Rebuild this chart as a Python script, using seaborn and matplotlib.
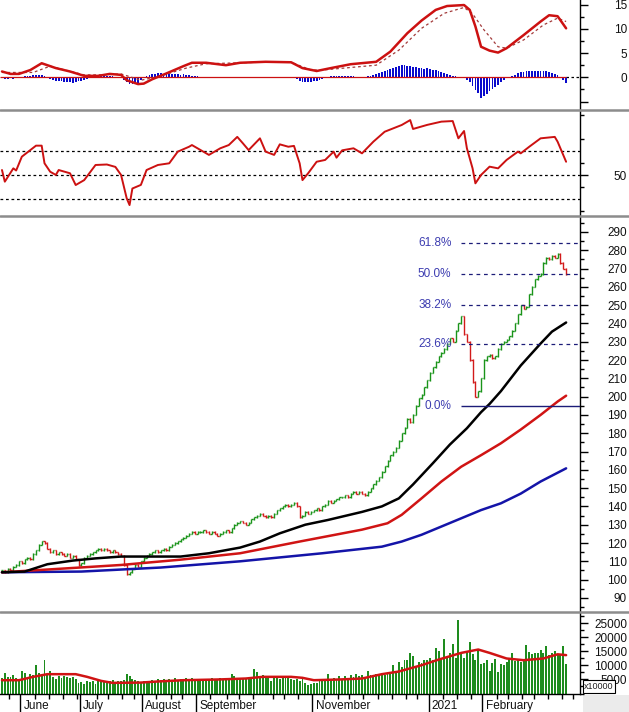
import numpy as np
import pandas as pd
import matplotlib
matplotlib.use("Agg")
import matplotlib.pyplot as plt
import matplotlib.transforms as mtransforms
from matplotlib.lines import Line2D
from matplotlib.patches import Rectangle
from matplotlib.ticker import FixedLocator, MultipleLocator
import seaborn as sns

# ---------------- data ----------------
closes = [
    105, 104, 106, 105, 107, 108, 110, 109, 111, 112,
    111, 114, 116, 119, 121, 120, 117, 115, 116, 114,
    115, 114, 113, 114, 112, 113, 111, 108, 109, 112,
    113, 114, 115, 116, 117, 116, 117, 116, 115, 116,
    115, 114, 113, 108, 103, 104, 106, 108, 107, 110,
    112, 113, 114, 115, 116, 115, 116, 117, 116, 118,
    119, 120, 121, 122, 123, 124, 125, 126, 125, 126,
    126, 127, 126, 125, 126, 125, 124, 125, 126, 127,
    126, 128, 130, 131, 132, 131, 130, 131, 133, 134,
    135, 136, 135, 134, 135, 134, 136, 138, 139, 140,
    141, 140, 141, 142, 140, 134, 135, 137, 136, 137,
    138, 139, 138, 140, 141, 143, 142, 143, 144, 145,
    145, 146, 145, 147, 148, 147, 148, 147, 146, 148,
    150, 152, 154, 156, 159, 162, 165, 168, 170, 172,
    176, 180, 183, 188, 186, 190, 195, 199, 201, 205,
    209, 213, 216, 219, 222, 224, 226, 229, 232, 230,
    236, 240, 244, 234, 230, 220, 208, 200, 203, 210,
    220, 222, 223, 221, 222, 226, 229, 230, 231, 233,
    236, 240, 245, 250, 248, 249, 256, 260, 264, 266,
    267, 273, 276, 275, 277, 276, 278, 273, 270, 267,
]

volumes = [
    5500, 7300, 6000, 5800, 6500, 5600, 5000, 7900, 7300, 6000,
    6900, 6500, 10100, 7400, 6400, 11900, 7000, 8200, 6000, 5300,
    6200, 5700, 6400, 5900, 5500, 6000, 5200, 3800, 4200, 3500,
    4300, 4000, 4600, 3400, 4700, 4400, 4100, 4500, 4300, 4800,
    4200, 4600, 4400, 4900, 7000, 6300, 5200, 4700, 4400, 4200,
    4600, 4500, 3900, 4700, 4400, 5000, 4800, 5300, 4500, 5100,
    4900, 5400, 4700, 5200, 4800, 5600, 4900, 5500, 5000, 4700,
    5200, 4900, 5300, 5100, 5500, 4800, 5200, 5400, 5000, 5600,
    5100, 7000, 6400, 5300, 5600, 5400, 5000, 5300, 5700, 8600,
    7800, 5800, 6700, 6000, 5800, 4600, 5600, 5900, 5300, 6100,
    5700, 5500, 5000, 4800, 5200, 4300, 5100, 3600, 3100, 3300,
    3600, 3900, 4700, 4300, 4500, 7000, 5200, 5600, 5000, 6100,
    5300, 6400, 5700, 6600, 5900, 6800, 6200, 6500, 5600, 8000,
    6600, 6300, 7000, 6800, 7200, 6500, 7100, 7600, 10200, 7800,
    11300, 9400, 11900, 11800, 14500, 13300, 9600, 11200, 10800, 12000,
    12100, 12500, 11900, 16100, 15200, 12300, 19600, 13000, 14500, 17800,
    12800, 26400, 14000, 12600, 15000, 18400, 14200, 12000, 15700, 10500,
    11000, 12000, 8000, 11000, 12200, 7600, 10600, 10200, 11300, 12600,
    14400, 11500, 11800, 11200, 11500, 17200, 14800, 14200, 14500, 14300,
    15700, 14600, 16800, 13900, 14500, 15000, 14100, 13800, 16800, 10700,
]

macd_hist = [
    -0.2, -0.3, -0.3, -0.2, -0.3, -0.2, -0.1, 0.1,
    0.2, 0.3, 0.3, 0.4, 0.4, 0.5, 0.4, 0.3,
    -0.2, -0.4, -0.6, -0.7, -0.8, -0.7, -0.9, -1.0, -0.9, -1.1, -1.0, -0.8, -0.7, -0.5, -0.3, -0.1,
    0.2, 0.3, 0.3, 0.4, 0.3, 0.3, 0.2, 0.2, 0.1, 0.1, -0.1, -0.5,
    -1.0, -1.3, -1.4, -1.3, -1.1, -0.6, -0.2,
    0.2, 0.4, 0.6, 0.7, 0.8, 0.8, 0.7, 0.8, 0.7, 0.6, 0.7, 0.6, 0.5, 0.6, 0.5, 0.4, 0.3, 0.3, 0.2, 0.1, 0.1,
    0.0, -0.1, 0.0, -0.1, -0.1, 0.0, 0.0, 0.1, 0.0, -0.1, 0.0, 0.1, 0.1, 0.0, -0.1, 0.0,
    -0.1, 0.0, 0.1, 0.1, 0.0, 0.0, -0.1, -0.1, 0.0, 0.0, 0.1, 0.0, 0.0, -0.1, 0.0,
    -0.2, -0.4, -0.7, -0.9, -1.0, -0.9, -0.9, -0.8, -0.7, -0.5, -0.4, -0.2,
    0.1, 0.2, 0.2, 0.3, 0.3, 0.2, 0.3, 0.3, 0.2, 0.2, 0.1, 0.1, 0.1, 0.0, 0.2, 0.3,
    0.4, 0.6, 0.8, 1.0, 1.3, 1.5, 1.8, 2.0, 2.2, 2.4, 2.5, 2.5, 2.4, 2.3, 2.2,
    2.1, 2.0, 1.9, 1.8, 1.9, 1.8, 1.6, 1.5, 1.3, 1.1, 0.9, 0.7, 0.5, 0.3, 0.2,
    0.1, 0.1, 0.0,
    -0.5, -1.0, -1.8, -2.6, -3.3, -4.3, -3.9, -3.5, -2.9, -2.5, -2.1, -1.6, -1.0, -0.5,
    -0.2, 0.0, 0.2, 0.5,
    0.8, 1.0, 1.1, 1.2, 1.2, 1.3, 1.2, 1.3, 1.4, 1.3, 1.2, 1.0, 0.8, 0.6, 0.4,
    0.1, -0.6, -1.2,
]

macd_idx = [0, 3, 6, 10, 14, 19, 24, 29, 34, 38, 42, 44, 48, 50, 53, 58, 64, 67, 72, 79,
            84, 93, 102, 106, 111, 116, 123, 132, 137, 143, 148, 153, 157, 163, 165, 167,
            169, 172, 175, 178, 184, 190, 193, 196, 199]
macd_val = [1.2, 0.7, 0.7, 1.5, 2.9, 1.9, 1.2, 0.3, 0.3, 0.7, 0.5, -0.6, -1.4, -1.3, -0.4, 0.8,
            2.3, 3.0, 3.0, 2.5, 3.0, 3.2, 3.1, 1.9, 1.3, 1.9, 2.7, 3.2, 5.3, 9.1, 11.7, 13.9,
            14.7, 14.9, 13.9, 10.5, 6.3, 5.5, 5.1, 6.0, 8.7, 11.5, 12.8, 12.6, 10.1]

signal_idx = [0, 11, 17, 29, 35, 42, 49, 55, 65, 72, 91, 102, 109, 113, 132, 140, 148, 156,
              163, 166, 170, 175, 178, 184, 191, 196, 199]
signal_val = [1.0, 1.0, 2.3, 0.5, 0.5, 0.7, -0.6, 0.1, 1.9, 2.8, 3.1, 3.1, 1.5, 1.5, 2.5, 5.6,
              10.1, 13.2, 14.4, 13.1, 9.8, 6.3, 6.0, 7.7, 10.8, 12.2, 11.5]

rsi_idx = [0, 1, 4, 5, 7, 12, 14, 15, 17, 19, 20, 24, 26, 29, 33, 37, 40, 42, 44, 45, 46, 49,
           51, 55, 59, 62, 66, 67, 73, 77, 80, 83, 85, 87, 91, 93, 96, 98, 101, 103, 105, 106,
           108, 111, 114, 117, 118, 120, 124, 127, 131, 135, 141, 144, 145, 150, 155, 159, 161,
           163, 164, 166, 167, 169, 172, 175, 178, 182, 183, 186, 190, 195, 196, 199]
rsi_val = [54.4, 44.7, 55.8, 54.0, 65.5, 74.7, 74.7, 60.0, 53.0, 50.3, 54.4, 51.7, 41.9, 46.0,
           58.6, 59.0, 57.0, 50.3, 30.8, 25.2, 39.0, 42.0, 54.4, 58.6, 60.0, 69.7, 73.8, 75.2,
           67.0, 72.5, 75.2, 82.0, 76.6, 71.0, 80.8, 69.7, 67.0, 75.8, 73.8, 74.5, 60.0, 46.0,
           51.7, 61.3, 62.8, 69.7, 64.7, 70.8, 72.5, 68.3, 78.0, 86.3, 91.9, 96.0, 88.6, 92.0,
           94.7, 95.2, 80.8, 86.9, 72.5, 55.8, 43.3, 50.3, 57.2, 55.8, 62.8, 69.7, 68.3, 73.8,
           80.8, 82.0, 78.0, 61.3]

ma_black_idx = [0, 8, 16, 25, 33, 42, 63, 73, 84, 91, 98, 107, 115, 127, 134, 140, 145, 152,
                158, 164, 169, 172, 176, 183, 190, 194, 199]
ma_black_val = [104, 104.4, 108.4, 110.4, 111.6, 112.6, 112.6, 114.4, 117.5, 120.8, 125.3,
                130.0, 132.6, 137.0, 140.0, 144.4, 152.0, 163.6, 173.8, 182.7, 191.5, 196.0,
                203.0, 217.0, 229.0, 235.5, 240.5]

ma_red_idx = [0, 16, 42, 63, 84, 105, 127, 136, 141, 148, 155, 162, 169, 176, 183, 190, 196, 199]
ma_red_val = [104, 105.5, 108.0, 110.9, 114.4, 120.8, 127.3, 130.8, 135.4, 144.4, 153.6, 161.7,
              168.0, 174.5, 182.0, 190.0, 197.3, 200.5]

ma_blue_idx = [0, 28, 56, 84, 113, 134, 141, 148, 155, 162, 169, 176, 183, 190, 199]
ma_blue_val = [104, 104.4, 106.6, 110.0, 114.4, 118.0, 120.8, 124.5, 129.0, 133.5, 138.0,
               141.7, 147.0, 153.6, 160.8]

vol_ma_idx = [0, 6, 11, 16, 26, 30, 35, 39, 49, 55, 64, 76, 86, 92, 102, 106, 110, 119, 127,
              134, 140, 148, 154, 162, 168, 172, 178, 184, 191, 196, 199]
vol_ma_val = [4750, 4750, 5950, 6900, 6900, 5950, 4500, 3800, 3900, 4300, 4750, 5000, 5350,
              5950, 5950, 5600, 4750, 5000, 5350, 6900, 7850, 10100, 12100, 14500, 15700,
              14500, 12500, 11900, 12500, 14000, 13700]

fib_labels = ["0.0%", "23.6%", "38.2%", "50.0%", "61.8%"]
fib_prices = [195.0, 229.0, 250.0, 267.0, 284.0]
fib_start = 162

month_labels = ["June", "July", "August", "September", "November", "2021", "February"]
month_idx = [7, 28, 50, 69, 110, 151, 170]
week_ticks = [2.5, 11.5, 16.5, 21.5, 26.5, 33.5, 37.5, 42.5, 46.5, 54.5, 59.5, 63.5, 73.5,
              79.5, 83.5, 88.5, 95.5, 99.5, 104.5, 113.5, 118.5, 122.5, 127.5, 132.5, 137.5,
              142.5, 146.5, 155.5, 160.5, 165.5, 174.5, 178.5, 183.5, 187.5, 192.5, 197.5, 201.5]

price_ticks = list(range(90, 300, 10))
macd_ticks = [-5, 0, 5, 10, 15]
macd_tick_labels = ["", "0", "5", "10", "15"]
vol_ticks = [5000, 10000, 15000, 20000, 25000]

# ---------------- style ----------------
sns.set_style("white")
plt.rcParams["font.family"] = ["Liberation Sans", "DejaVu Sans"]
plt.rcParams["axes.linewidth"] = 1.0

W, H = 629, 712
fig = plt.figure(figsize=(W / 100, H / 100), dpi=100)
fig.patch.set_facecolor("white")


def axrect(top, bottom):
    return [0.0, (H - bottom) / H, 580 / W, (bottom - top) / H]


ax_macd = fig.add_axes(axrect(0, 110))
ax_rsi = fig.add_axes(axrect(110, 216))
ax_px = fig.add_axes(axrect(216, 612))
ax_vol = fig.add_axes(axrect(612, 693.5))
axes = [ax_macd, ax_rsi, ax_px, ax_vol]

XMIN, XMAX = -0.7, 203.9
LBL = 8.5
PT_TO_EDGE = 47 * 72 / 100  # spine -> right edge of label (pt)

for ax in axes:
    ax.set_facecolor("white")
    ax.set_xlim(XMIN, XMAX)
    for s in ["top", "left", "bottom"]:
        ax.spines[s].set_visible(False)
    ax.spines["right"].set_color("black")
    ax.spines["right"].set_linewidth(1.0)
    ax.yaxis.tick_right()
    ax.tick_params(axis="x", which="both", bottom=False, top=False, labelbottom=False)
    ax.tick_params(axis="y", which="major", length=6, width=1, color="black", direction="out",
                   pad=PT_TO_EDGE - 6, labelsize=LBL, labelcolor="#111111")
    ax.tick_params(axis="y", which="minor", length=3, width=1, color="black", direction="out")
    ax.grid(False)

green = "#1a941a"
red = "#d21a1a"

# ---------------- MACD panel ----------------
n_h = len(macd_hist)
hx = np.arange(n_h)
ax_macd.set_ylim(-6.74, 15.94)
ax_macd.hlines(0, n_h - 1, XMAX, color="black", lw=0.9, linestyles=(0, (2, 2)))
ax_macd.bar(hx, macd_hist, width=0.62, color="#0a0acc", linewidth=0, zorder=2)
ax_macd.hlines(0, XMIN, n_h - 1, color="#cc1111", lw=0.9, zorder=3)
sns.lineplot(x=signal_idx, y=signal_val, ax=ax_macd, color="#a33a3a", lw=0.9,
             linestyle=(0, (2.2, 2.2)), zorder=4)
sns.lineplot(x=macd_idx, y=macd_val, ax=ax_macd, color="#cc1111", lw=1.8, zorder=5)
ax_macd.yaxis.set_major_locator(FixedLocator(macd_ticks))
ax_macd.set_yticklabels(macd_tick_labels)
ax_macd.yaxis.set_minor_locator(MultipleLocator(2.5))

# ---------------- RSI panel ----------------
ax_rsi.set_ylim(16.1, 104.4)
for lvl in [30, 50, 70]:
    ax_rsi.axhline(lvl, color="black", lw=0.9, linestyle=(0, (2.2, 2.2)), zorder=1)
sns.lineplot(x=rsi_idx, y=rsi_val, ax=ax_rsi, color="#cc1111", lw=1.4, zorder=3)
ax_rsi.yaxis.set_major_locator(FixedLocator([50]))
ax_rsi.set_yticklabels(["50"])
ax_rsi.yaxis.set_minor_locator(FixedLocator([20, 40, 60, 80, 100]))

# ---------------- price panel ----------------
ax_px.set_ylim(82.3, 298.7)
c = np.asarray(closes, dtype=float)
o = np.concatenate([[c[0]], c[:-1]])
px = np.arange(len(c))
cols = np.where(c >= o, green, red)
ax_px.vlines(px, np.minimum(o, c) - 0.3, np.maximum(o, c) + 0.3, colors=cols, lw=1.0, zorder=2)
ax_px.hlines(o, px - 0.45, px, colors=cols, lw=1.0, zorder=2)
ax_px.hlines(c, px, px + 0.45, colors=cols, lw=1.0, zorder=2)

sns.lineplot(x=ma_blue_idx, y=ma_blue_val, ax=ax_px, color="#1414a8", lw=1.8, zorder=3)
sns.lineplot(x=ma_red_idx, y=ma_red_val, ax=ax_px, color="#d01414", lw=1.8, zorder=3)
sns.lineplot(x=ma_black_idx, y=ma_black_val, ax=ax_px, color="black", lw=1.8, zorder=3)

fib_col = "#1c1c78"
for lab, p in zip(fib_labels, fib_prices):
    if lab == "0.0%":
        ax_px.hlines(p, fib_start, XMAX, color=fib_col, lw=1.0, zorder=4)
    else:
        ax_px.hlines(p, fib_start, XMAX, color=fib_col, lw=0.9, linestyles=(0, (3, 3)), zorder=4)
    ax_px.text(fib_start - 3.5, p, lab, ha="right", va="center", color="#3c3cb0",
               fontsize=LBL, zorder=5)

ax_px.yaxis.set_major_locator(FixedLocator(price_ticks))
ax_px.set_yticklabels([str(t) for t in price_ticks])
ax_px.yaxis.set_minor_locator(MultipleLocator(5))

# ---------------- volume panel ----------------
ax_vol.set_ylim(0, 29100)
vx = np.arange(len(volumes))
ax_vol.bar(vx, volumes, width=0.68, color="#1e8c1e", linewidth=0, zorder=2)
sns.lineplot(x=vol_ma_idx, y=vol_ma_val, ax=ax_vol, color="#d01414", lw=1.8, zorder=3)
ax_vol.yaxis.set_major_locator(FixedLocator(vol_ticks))
ax_vol.set_yticklabels([str(t) for t in vol_ticks])
ax_vol.yaxis.set_minor_locator(MultipleLocator(2500))
ax_vol.spines["bottom"].set_visible(True)
ax_vol.spines["bottom"].set_color("black")
ax_vol.spines["bottom"].set_linewidth(1.0)
ax_vol.xaxis.set_major_locator(FixedLocator([m - 0.5 for m in month_idx]))
ax_vol.xaxis.set_minor_locator(FixedLocator(week_ticks))
ax_vol.tick_params(axis="x", which="major", bottom=True, length=13.5, width=1, color="black",
                   direction="out", labelbottom=False)
ax_vol.tick_params(axis="x", which="minor", bottom=True, length=3.5, width=1, color="black",
                   direction="out")
trans = mtransforms.blended_transform_factory(ax_vol.transData, ax_vol.transAxes)
for lab, m in zip(month_labels, month_idx):
    ax_vol.text(m + 0.6, -0.155, lab, transform=trans, ha="left", va="center",
                fontsize=LBL, color="#111111", clip_on=False)

for ax in axes:
    ax.set_xlabel("")
    ax.set_ylabel("")
    for t in ax.get_yticklabels():
        t.set_horizontalalignment("right")
    leg = ax.get_legend()
    if leg is not None:
        leg.remove()

# ---------------- panel separators and corner box ----------------
for ypx in [110, 216, 612]:
    fig.add_artist(Line2D([0, 1], [1 - ypx / H, 1 - ypx / H], transform=fig.transFigure,
                          color="#8c8c8c", lw=1.8, zorder=10))

fig.add_artist(Rectangle((583 / W, 0), (W - 583) / W, 17 / H, transform=fig.transFigure,
                         facecolor="#ebebeb", edgecolor="none", zorder=0))
fig.text(599 / W, 1 - 686.5 / H, "x10000", ha="center", va="center", fontsize=6.5,
         color="#222222",
         bbox=dict(facecolor="white", edgecolor="black", boxstyle="square,pad=0.18", lw=0.8),
         zorder=11)

fig.savefig("out.png", dpi=100, facecolor="white")
